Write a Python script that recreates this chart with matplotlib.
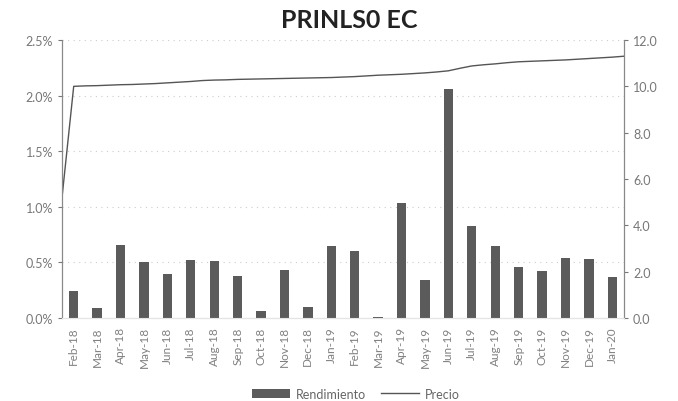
import numpy as np
import matplotlib
matplotlib.use('Agg')
import matplotlib.pyplot as plt
from matplotlib.ticker import FuncFormatter

months = ["Feb-18", "Mar-18", "Apr-18", "May-18", "Jun-18", "Jul-18", "Aug-18", "Sep-18",
          "Oct-18", "Nov-18", "Dec-18", "Jan-19", "Feb-19", "Mar-19", "Apr-19", "May-19",
          "Jun-19", "Jul-19", "Aug-19", "Sep-19", "Oct-19", "Nov-19", "Dec-19", "Jan-20"]

# rendimiento mensual (%)
rendimiento = [0.24, 0.09, 0.66, 0.50, 0.40, 0.52, 0.51, 0.38, 0.06, 0.43, 0.10, 0.65,
               0.60, 0.01, 1.03, 0.34, 2.06, 0.83, 0.65, 0.46, 0.42, 0.54, 0.53, 0.37]

# precio (quincenal, eje derecho)
precio = [5.2, 10.00, 10.02, 10.03, 10.05, 10.07, 10.08, 10.10, 10.12, 10.15, 10.18, 10.21,
          10.25, 10.27, 10.28, 10.30, 10.31, 10.32, 10.33, 10.34, 10.35, 10.36, 10.37, 10.38,
          10.40, 10.42, 10.45, 10.48, 10.50, 10.52, 10.55, 10.58, 10.62, 10.67, 10.78, 10.88,
          10.93, 10.97, 11.02, 11.06, 11.08, 11.10, 11.12, 11.14, 11.17, 11.20, 11.23, 11.26,
          11.30]

plt.rcParams['font.family'] = ['Lato', 'DejaVu Sans']

fig = plt.figure(figsize=(6.78, 4.02), dpi=100)
ax = fig.add_axes([62 / 678, 1 - 319 / 402, (624 - 62) / 678, (319 - 41) / 402])
ax2 = ax.twinx()

x = np.arange(len(months))
ax.bar(x, rendimiento, width=0.4, color='#5b5b5b', zorder=3, label='Rendimiento')
ax.set_xlim(-0.5, len(months) - 0.5)
ax.set_ylim(0, 2.5)
ax.set_yticks(np.arange(0, 2.51, 0.5))
ax.yaxis.set_major_formatter(FuncFormatter(lambda v, p: f"{v:.1f}%"))
ax.set_xticks(x)
ax.set_xticklabels(months, rotation=90, fontsize=8.5, color='#808080')
ax.tick_params(axis='y', labelsize=9, colors='#777777', length=3)
ax.tick_params(axis='x', length=0, pad=6)
ax.grid(axis='y', linestyle=(0, (1, 4)), color='#cccccc', linewidth=0.8, zorder=0)

xp = np.linspace(-0.5, len(months) - 0.5, len(precio))
ax2.plot(xp, precio, color='#555555', linewidth=1.0, label='Precio')
ax2.set_ylim(0, 12)
ax2.set_yticks(np.arange(0, 12.1, 2))
ax2.yaxis.set_major_formatter(FuncFormatter(lambda v, p: f"{v:.1f}"))
ax2.tick_params(axis='y', labelsize=9, colors='#777777', length=3)

for a in (ax, ax2):
    a.spines['top'].set_visible(False)
    a.spines['bottom'].set_color('#e4e4e4')
    a.spines['left'].set_color('#888888')
    a.spines['right'].set_color('#888888')

fig.text(0.515, 0.95, "PRINLS0 EC", ha='center', va='center', fontsize=18,
         fontweight='bold', color='#222222')

h1, l1 = ax.get_legend_handles_labels()
h2, l2 = ax2.get_legend_handles_labels()
fig.legend(h1 + h2, l1 + l2, loc='center', bbox_to_anchor=(0.525, 0.018), ncol=2,
           frameon=False, fontsize=9, labelcolor='#666666', handlelength=3.0,
           handletextpad=0.5, columnspacing=1.2)

plt.savefig("out.png", dpi=100)
plt.close()
